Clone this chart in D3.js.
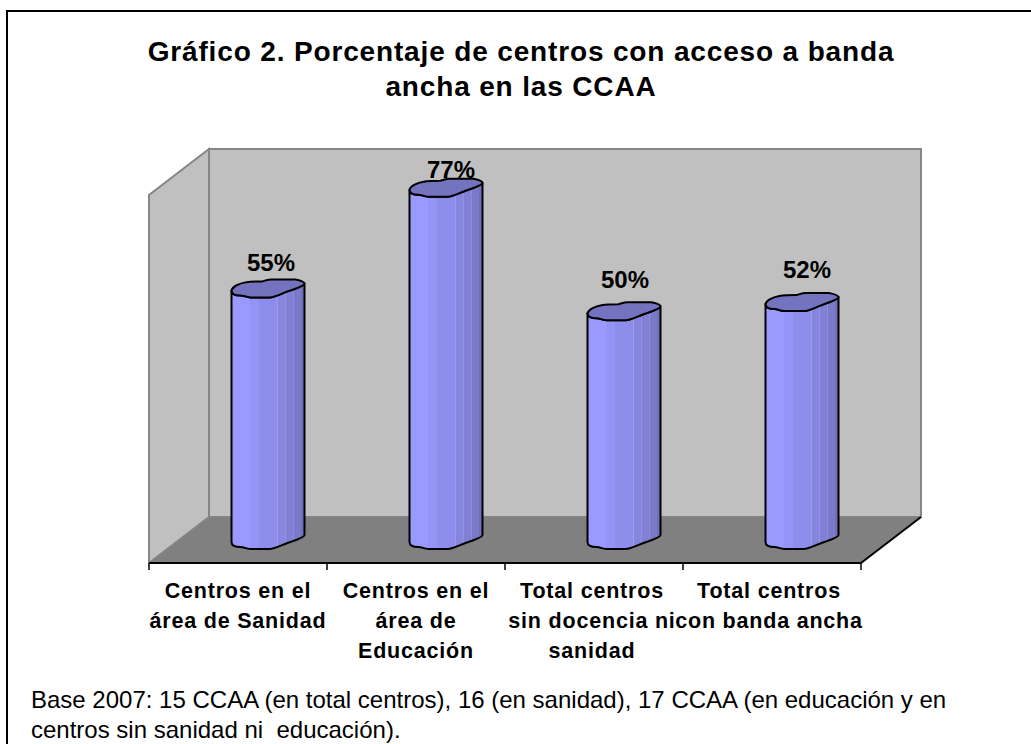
<!DOCTYPE html>
<html><head><meta charset="utf-8">
<script src="https://cdn.jsdelivr.net/npm/d3@7/dist/d3.min.js"></script>
<style>html,body{margin:0;padding:0;background:#fff}svg{display:block}text{font-family:"Liberation Sans",Arial,sans-serif;fill:#000}</style>
</head><body><svg id="c" width="1031" height="744"></svg>
<script>
const categories = ["Centros en el área de Sanidad","Centros en el área de Educación","Total centros sin docencia ni sanidad","Total centros con banda ancha"];
const categoryLines = [["Centros en el","área de Sanidad"],["Centros en el","área de","Educación"],["Total centros","sin docencia ni","sanidad"],["Total centros","con banda ancha"]];
const values = [55,77,50,52];
const titleLines = ["Gráfico 2. Porcentaje de centros con acceso a banda","ancha en las CCAA"];
const noteLines = ["Base 2007: 15 CCAA (en total centros), 16 (en sanidad), 17 CCAA (en educación y en","centros sin sanidad ni  educación)."];

const svg = d3.select("#c");
const left=149, right=861, floorY=563, dx=60, dy=46, wallH=368;
const x = d3.scaleBand().domain(categories).range([left,right]);
const yBase = 535;
const y = d3.scaleLinear().domain([0,80]).range([yBase, yBase-366]);

// frame
svg.append("path").attr("d","M7,744V11H1031").attr("fill","none").attr("stroke","#000").attr("stroke-width",2);

// title
svg.append("g").selectAll("text").data(titleLines).join("text")
 .attr("x",521).attr("y",(d,i)=>61+i*35).attr("text-anchor","middle")
 .attr("font-size",28).attr("font-weight","bold").attr("letter-spacing",0.85).text(d=>d);

// walls
const wall="#c0c0c0", edge="#868686";
svg.append("path").attr("d",`M${left},${floorY}V${floorY-wallH}L${left+dx},${floorY-wallH-dy}V${floorY-dy}Z`).attr("fill",wall).attr("stroke",edge).attr("stroke-width",2);
svg.append("rect").attr("x",left+dx).attr("y",floorY-dy-wallH).attr("width",right-left).attr("height",wallH).attr("fill",wall).attr("stroke",edge).attr("stroke-width",2);
// floor
svg.append("path").attr("d",`M${left},${floorY}L${left+dx},${floorY-dy}H${right+dx}L${right},${floorY}Z`).attr("fill","#808080");
svg.append("path").attr("d",`M${left},${floorY}L${left+dx},${floorY-dy}`).attr("stroke",edge).attr("stroke-width",1.5).attr("fill","none");
svg.append("path").attr("d",`M${right},${floorY}L${right+dx},${floorY-dy}`).attr("stroke","#000").attr("stroke-width",2).attr("fill","none");

// axis
svg.append("path").attr("d",`M${left},${floorY}H${right}`).attr("stroke","#000").attr("stroke-width",2);
svg.append("g").selectAll("line").data(d3.range(categories.length+1)).join("line")
 .attr("x1",i=>left+i*x.bandwidth()).attr("x2",i=>left+i*x.bandwidth()).attr("y1",floorY).attr("y2",floorY+7)
 .attr("stroke","#000").attr("stroke-width",1.5);

// gradient: stepped facets of the cylinder
const W=73;
const facets=[[0,18,"#9999ff"],[18,27,"#9494f6"],[27,45.5,"#8d8deb"],[45.5,46.5,"#9c9cea"],[46.5,53.5,"#8686df"],[53.5,54.5,"#9292e2"],[54.5,61.5,"#8080d5"],[61.5,62.5,"#8c8cd8"],[62.5,69,"#7a7acb"],[69,73,"#7070bb"]];
const g = svg.append("defs").append("linearGradient").attr("id","cyl").attr("gradientUnits","objectBoundingBox").attr("x1",0).attr("x2",1).attr("y1",0).attr("y2",0);
facets.forEach(([a,b,c])=>{
  g.append("stop").attr("offset",a/W).attr("stop-color",c);
  g.append("stop").attr("offset",b/W).attr("stop-color",c);
});

// outline helpers: right corner at (x0+73,t), left corner at (x0,t+7)
const backEdge=(x0,t)=>`M${x0},${t+7}C${x0+1},${t+3} ${x0+8},${t} ${x0+14},${t-1}C${x0+20},${t-2} ${x0+26},${t-2} ${x0+31},${t-2}C${x0+35},${t-3} ${x0+36},${t-4} ${x0+40},${t-4}L${x0+64},${t-4}C${x0+68},${t-3} ${x0+73},${t-2} ${x0+73},${t}`;
const frontEdge=(x0,t)=>`C${x0+73},${t+2} ${x0+62},${t+6} ${x0+56},${t+8}C${x0+50},${t+10} ${x0+44},${t+14} ${x0+38},${t+14}L${x0+19},${t+14}C${x0+14},${t+14} ${x0+13},${t+12} ${x0+9},${t+12}C${x0+4},${t+12} ${x0},${t+11} ${x0},${t+7}`;
const frontEdgeRev=(x0,t)=>`C${x0},${t+11} ${x0+4},${t+12} ${x0+9},${t+12}C${x0+13},${t+12} ${x0+14},${t+14} ${x0+19},${t+14}L${x0+38},${t+14}C${x0+44},${t+14} ${x0+50},${t+10} ${x0+56},${t+8}C${x0+62},${t+6} ${x0+73},${t+2} ${x0+73},${t}`;

const labelShift=[[3,-12],[5,-5],[1,-18],[5,-19]];
const bars = svg.append("g").selectAll("g").data(values.map((v,i)=>({v,c:categories[i],i}))).join("g");
// labels first: the second cylinder's top covers the foot of its label
bars.each(function(d){
  const x0 = x(d.c)+x.bandwidth()/2+30-W/2;
  const t = y(d.v);
  d3.select(this).append("text").attr("x",x0+W/2+labelShift[d.i][0]).attr("y",t+labelShift[d.i][1])
   .attr("text-anchor","middle").attr("font-size",24).attr("font-weight","bold").text(d.v+"%");
  const s=d3.select(this);
  const body = `M${x0},${t+7}V${yBase+7}`+frontEdgeRev(x0,yBase)+`V${t}`+frontEdge(x0,t)+"Z";
  s.append("path").attr("d",body).attr("fill","url(#cyl)").attr("stroke","#000").attr("stroke-width",2).attr("stroke-linejoin","round");
  s.append("path").attr("d",backEdge(x0,t)+frontEdge(x0,t)+"Z").attr("fill","#7373bf").attr("stroke","#000").attr("stroke-width",2).attr("stroke-linejoin","round");
});

// category labels
const labelNudge=[0,0,-2,-3];
svg.append("g").selectAll("g").data(categoryLines).join("g").each(function(lines,i){
  d3.select(this).selectAll("text").data(lines).join("text")
   .attr("x",x(categories[i])+x.bandwidth()/2+labelNudge[i]).attr("y",(d,k)=>598+k*30)
   .attr("text-anchor","middle").attr("font-size",21.5).attr("font-weight","bold").attr("letter-spacing",0.8).text(d=>d);
});

// note
svg.append("g").selectAll("text").data(noteLines).join("text")
 .attr("x",31).attr("y",(d,i)=>708+i*30).attr("font-size",24).style("white-space","pre").text(d=>d);
</script></body></html>
